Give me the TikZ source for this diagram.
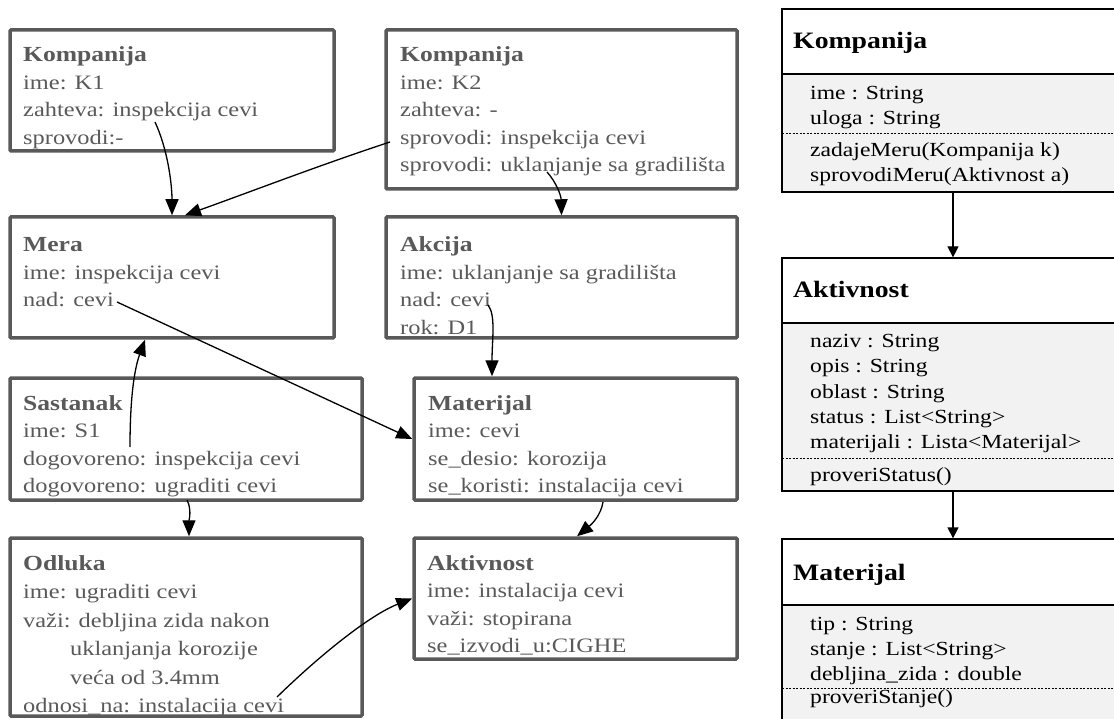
\documentclass[tikz,border=0pt]{standalone}
\usepackage{fontspec}
\setmainfont{Liberation Serif}
\newfontfamily\objfont[FakeStretch=1.19]{Liberation Serif}
\newfontfamily\umlfont[FakeStretch=1.18]{Liberation Serif}
\usetikzlibrary{arrows.meta}
\definecolor{boxgray}{HTML}{595959}
\definecolor{umlfill}{HTML}{F2F2F2}
\begin{document}
\begin{tikzpicture}[x=1pt,y=-1pt,
  objbox/.style={draw=boxgray, line width=3.5pt, rectangle, inner sep=0pt, rounded corners=1pt},
  otxt/.style={anchor=base west, inner sep=0pt, text=boxgray, font=\objfont\fontsize{20.5}{24}\selectfont},
  ottl/.style={otxt, font=\objfont\fontsize{21.5}{26}\selectfont\bfseries},
  conn/.style={draw=black, line width=1.3pt, -{Triangle[length=16pt,width=13pt]}},
  umlhead/.style={draw=black, line width=1.3pt, fill=white, rectangle, inner sep=0pt, minimum width=342pt},
  umlbody/.style={draw=black, line width=1.3pt, fill=umlfill, rectangle, inner sep=0pt, minimum width=342pt},
  umldash/.style={draw=black, line width=0.7pt, dash pattern=on 2pt off 1.5pt},
  umlarr/.style={draw=black, line width=1.3pt, -{Triangle[length=11pt,width=11pt]}},
  utxt/.style={anchor=base west, inner sep=0pt, text=black, font=\umlfont\fontsize{20}{24}\selectfont},
  uttl/.style={anchor=base west, inner sep=0pt, text=black, font=\umlfont\fontsize{23.5}{27}\selectfont\bfseries}
]
\useasboundingbox (0,0) rectangle (1114,719);

% ---------- object boxes ----------
\node[objbox, minimum width=324pt, minimum height=121pt] (k1) at (172,90.5) {};
\node[objbox, minimum width=351pt, minimum height=159pt] (k2) at (561.5,109.5) {};
\node[objbox, minimum width=324pt, minimum height=121pt] (mera) at (172,277.5) {};
\node[objbox, minimum width=351pt, minimum height=121pt] (akcija) at (561.5,277.5) {};
\node[objbox, minimum width=352pt, minimum height=122pt] (sast) at (186,439) {};
\node[objbox, minimum width=323pt, minimum height=122pt] (mat) at (575.5,439) {};
\node[objbox, minimum width=352pt, minimum height=178pt] (odl) at (186,627) {};
\node[objbox, minimum width=323pt, minimum height=121pt] (akt) at (575.5,598.5) {};

% K1
\node[ottl] (k1t) at (23,62) {Kompanija};
\node[otxt] (k1a) at (23,89.5) {ime: K1};
\node[otxt] (k1b) at (23,117) {zahteva: inspekcija cevi};
\node[otxt] (k1c) at (23,144.5) {sprovodi:-};
% K2
\node[ottl] (k2t) at (400,62) {Kompanija};
\node[otxt] (k2a) at (400,89.5) {ime: K2};
\node[otxt] (k2b) at (400,117) {zahteva: -};
\node[otxt] (k2c) at (400,144.5) {sprovodi: inspekcija cevi};
\node[otxt] (k2d) at (400,172) {sprovodi: uklanjanje sa gradilišta};
% Mera
\node[ottl] (mt) at (23,252) {Mera};
\node[otxt] (ma) at (23,279.5) {ime: inspekcija cevi};
\node[otxt] (mb) at (23,307) {nad: cevi};
% Akcija
\node[ottl] (at) at (400,252) {Akcija};
\node[otxt] (aa) at (400,279.5) {ime: uklanjanje sa gradilišta};
\node[otxt] (ab) at (400,307) {nad: cevi};
\node[otxt] (ac) at (400,334.5) {rok: D1};
% Sastanak
\node[ottl] (st) at (23,410) {Sastanak};
\node[otxt] (sa) at (23,437.5) {ime: S1};
\node[otxt] (sb) at (23,465) {dogovoreno: inspekcija cevi};
\node[otxt] (sc) at (23,492.5) {dogovoreno: ugraditi cevi};
% Materijal
\node[ottl] (matt) at (428,410) {Materijal};
\node[otxt] (mata) at (428,437.5) {ime: cevi};
\node[otxt] (matb) at (428,465) {se\_desio: korozija};
\node[otxt] (matc) at (428,492.5) {se\_koristi: instalacija cevi};
% Odluka
\node[ottl] (ot) at (23,570) {Odluka};
\node[otxt] (oa) at (23,598.5) {ime: ugraditi cevi};
\node[otxt] (ob) at (23,627) {važi: debljina zida nakon};
\node[otxt] (oc) at (70,655.5) {uklanjanja korozije};
\node[otxt] (od) at (70,684) {veća od 3.4mm};
\node[otxt] (oe) at (23,712) {odnosi\_na: instalacija cevi};
% Aktivnost (object)
\node[ottl] (aktt) at (427,570) {Aktivnost};
\node[otxt] (akta) at (427,597.5) {ime: instalacija cevi};
\node[otxt] (aktb) at (427,625) {važi: stopirana};
\node[otxt] (aktc) at (427,652.5) {se\_izvodi\_u:CIGHE};

% connector start points
\coordinate (c1) at (155,122);
\coordinate (c2) at (390,142);
\coordinate (c3) at (547,172);
\coordinate (c4) at (117,302);
\coordinate (c5) at (130,447);
\coordinate (c6) at (488,305);
\coordinate (c7) at (187,500);
\coordinate (c8) at (603,502);
\coordinate (c9) at (277,697);

\draw[conn] (c1) .. controls (168,150) and (172,185) .. (mera.north);
\draw[conn] (c2) .. controls (320,165) and (250,192) .. ([xshift=13pt]mera.north);
\draw[conn] (c3) .. controls (556,182) and (561,195) .. (akcija.north);
\draw[conn] (c4) -- (mat.west);
\draw[conn] (c5) .. controls (130,400) and (134,370) .. ([xshift=-27pt]mera.south);
\draw[conn] (c6) .. controls (496,315) and (492,340) .. ([xshift=-83.5pt]mat.north);
\draw[conn] (c7) .. controls (192,510) and (189,520) .. ([xshift=3pt]odl.north);
\draw[conn] (c8) .. controls (601,515) and (592,524) .. ([xshift=1.5pt]akt.north);
\draw[conn] (c9) .. controls (320,655) and (370,615) .. (akt.west);

% ---------- UML classes ----------
\node[umlhead, minimum height=65pt] (ukh) at (953,41.5) {};
\node[umlbody, minimum height=118pt] (ukb) at (953,133) {};
\node[umlhead, minimum height=65pt] (uah) at (953,290.5) {};
\node[umlbody, minimum height=168pt] (uab) at (953,407) {};
\node[umlhead, minimum height=66pt] (umh) at (953,572) {};
\node[umlbody, minimum height=125pt] (umb) at (953,667.5) {};

\draw[umldash] (782,133) -- (1124,133);
\draw[umldash] (782,458) -- (1124,458);
\draw[umldash] (782,688) -- (1124,688);

\node[uttl] (ukt) at (793,49) {Kompanija};
\node[utxt] (uk1) at (810,100) {ime : String};
\node[utxt] (uk2) at (810,125) {uloga : String};
\node[utxt] (uk3) at (810,157) {zadajeMeru(Kompanija k)};
\node[utxt] (uk4) at (810,182) {sprovodiMeru(Aktivnost a)};

\node[uttl] (uat) at (793,298) {Aktivnost};
\node[utxt] (ua1) at (810,348) {naziv : String};
\node[utxt] (ua2) at (810,373) {opis : String};
\node[utxt] (ua3) at (810,398) {oblast : String};
\node[utxt] (ua4) at (810,423) {status : List<String>};
\node[utxt] (ua5) at (810,448) {materijali : Lista<Materijal>};
\node[utxt] (ua6) at (810,481) {proveriStatus()};

\node[uttl] (umt) at (793,580) {Materijal};
\node[utxt] (um1) at (810,630) {tip : String};
\node[utxt] (um2) at (810,655) {stanje : List<String>};
\node[utxt] (um3) at (810,680) {debljina\_zida : double};
\node[utxt] (um4) at (810,703) {proveriStanje()};

\draw[umlarr] (ukb.south) -- (uah.north);
\draw[umlarr] (uab.south) -- (umh.north);
\end{tikzpicture}
\end{document}
